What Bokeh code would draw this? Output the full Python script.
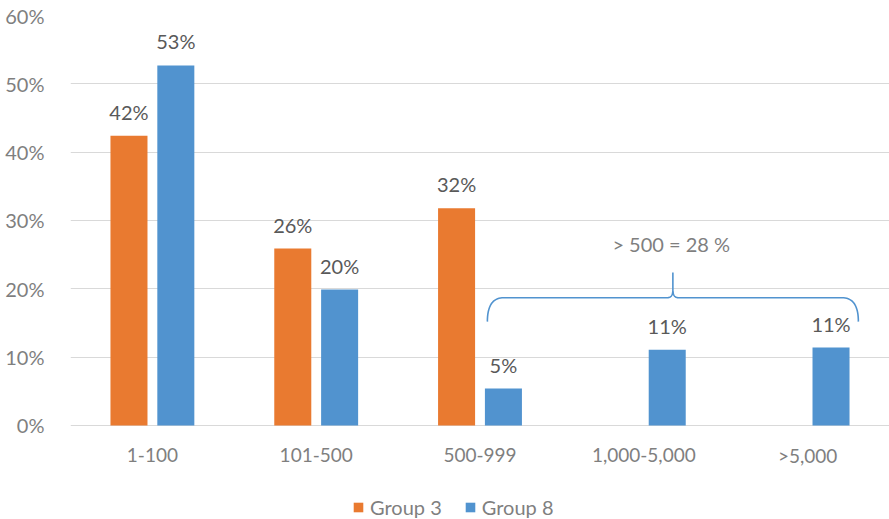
import numpy as np
from bokeh.plotting import figure
from bokeh.models import FixedTicker, Legend, LegendItem, Range1d, ColumnDataSource
from bokeh.core.properties import value
from bokeh.embed import file_html
from bokeh.resources import INLINE

categories = ["1-100", "101-500", "500-999", "1,000-5,000", ">5,000"]
group3 = [42.4, 25.9, 31.8, None, None]
group8 = [52.7, 19.9, 5.4, 11.1, 11.4]
y_ticks = [0, 10, 20, 30, 40, 50, 60]
y_tick_labels = ["0%", "10%", "20%", "30%", "40%", "50%", "60%"]
annotation_text = "> 500 = 28 %"

ORANGE = "#E97A30"
BLUE = "#5193CF"
FONT = "Lato"
GRID = "#D9D9D9"
TICK_COLOR = "#7F7F7F"
LABEL_COLOR = "#595959"

bar_w = 0.226
offset = 0.143

# frame extends below the 0% line to hold category labels and legend
p = figure(frame_width=819, frame_height=504,
           output_backend="svg", toolbar_location=None,
           x_range=Range1d(0, 5), y_range=Range1d(-13.76, 60),
           min_border_left=70, min_border_right=0, min_border_top=15,
           min_border_bottom=0)
p.outline_line_color = None
p.background_fill_color = "white"
p.border_fill_color = "white"

centers = np.arange(len(categories)) + 0.5

# Group 3 bars
i3 = [i for i, v in enumerate(group3) if v is not None]
src3 = ColumnDataSource(dict(x=[centers[i] - offset for i in i3],
                             top=[group3[i] for i in i3],
                             lab=[f"{round(group3[i])}%" for i in i3]))
r3 = p.vbar(x="x", top="top", width=bar_w, bottom=0, source=src3,
            fill_color=ORANGE, line_color=None)
# Group 8 bars
src8 = ColumnDataSource(dict(x=list(centers + offset), top=group8,
                             lab=[f"{round(v)}%" for v in group8]))
r8 = p.vbar(x="x", top="top", width=bar_w, bottom=0, source=src8,
            fill_color=BLUE, line_color=None)

for src in (src3, src8):
    p.text(x="x", y="top", text="lab", source=src, y_offset=-24,
           text_align="center", text_baseline="middle",
           text_font=value(FONT), text_font_size="20px", text_color=LABEL_COLOR)

# Category labels under the 0% line
p.text(x=list(centers), y=[0] * len(categories), text=categories, y_offset=30,
       text_align="center", text_baseline="middle",
       text_font=value(FONT), text_font_size="19px", text_color=TICK_COLOR)

# Bracket annotation (> 500 group)
bx0, bx1 = 2.545, 4.81
by_end, by_mid, by_tip = 15.2, 18.7, 22.4
bdx = 0.10
mx = (bx0 + bx1) / 2
cdx, cdy = 0.035, 1.1

def quad(p0, c, p1, n=20):
    t = np.linspace(0, 1, n)[:, None]
    pts = (1 - t) ** 2 * np.array(p0) + 2 * (1 - t) * t * np.array(c) + t ** 2 * np.array(p1)
    return pts

segs = [
    quad((bx0, by_end), (bx0, by_mid), (bx0 + bdx, by_mid)),
    quad((mx - cdx, by_mid), (mx, by_mid), (mx, by_mid + cdy)),
    np.array([[mx, by_tip]]),
    np.array([[mx, by_mid + cdy]]),
    quad((mx, by_mid + cdy), (mx, by_mid), (mx + cdx, by_mid)),
    quad((bx1 - bdx, by_mid), (bx1, by_mid), (bx1, by_end)),
]
pts = np.vstack(segs)
p.line(pts[:, 0], pts[:, 1], line_color=BLUE, line_width=1.6)
p.text(x=[mx - 0.01], y=[26.6], text=[annotation_text], text_align="center",
       text_baseline="middle", text_font=value(FONT), text_font_size="20px",
       text_color=TICK_COLOR)

# Axes
p.yaxis.ticker = FixedTicker(ticks=y_ticks)
p.yaxis.major_label_overrides = {t: l for t, l in zip(y_ticks, y_tick_labels)}
p.yaxis.axis_line_color = None
p.yaxis.major_tick_line_color = None
p.yaxis.minor_tick_line_color = None
p.yaxis.major_label_standoff = 20
p.yaxis.major_label_text_font = FONT
p.yaxis.major_label_text_font_size = "20px"
p.yaxis.major_label_text_color = TICK_COLOR
p.xaxis.visible = False

p.xgrid.grid_line_color = None
p.ygrid.ticker = FixedTicker(ticks=y_ticks)
p.ygrid.grid_line_color = GRID
p.ygrid.grid_line_width = 1.2

legend = Legend(items=[LegendItem(label="Group 3", renderers=[r3]),
                       LegendItem(label="Group 8", renderers=[r8])],
                orientation="horizontal", location=(282, 0),
                glyph_width=12, glyph_height=12, label_standoff=6, spacing=22,
                label_text_font=FONT, label_text_font_size="20px",
                label_text_color=TICK_COLOR, border_line_color=None,
                background_fill_alpha=0, margin=0, padding=4)
p.add_layout(legend, "center")

open("out.html", "w").write(file_html(p, INLINE))
